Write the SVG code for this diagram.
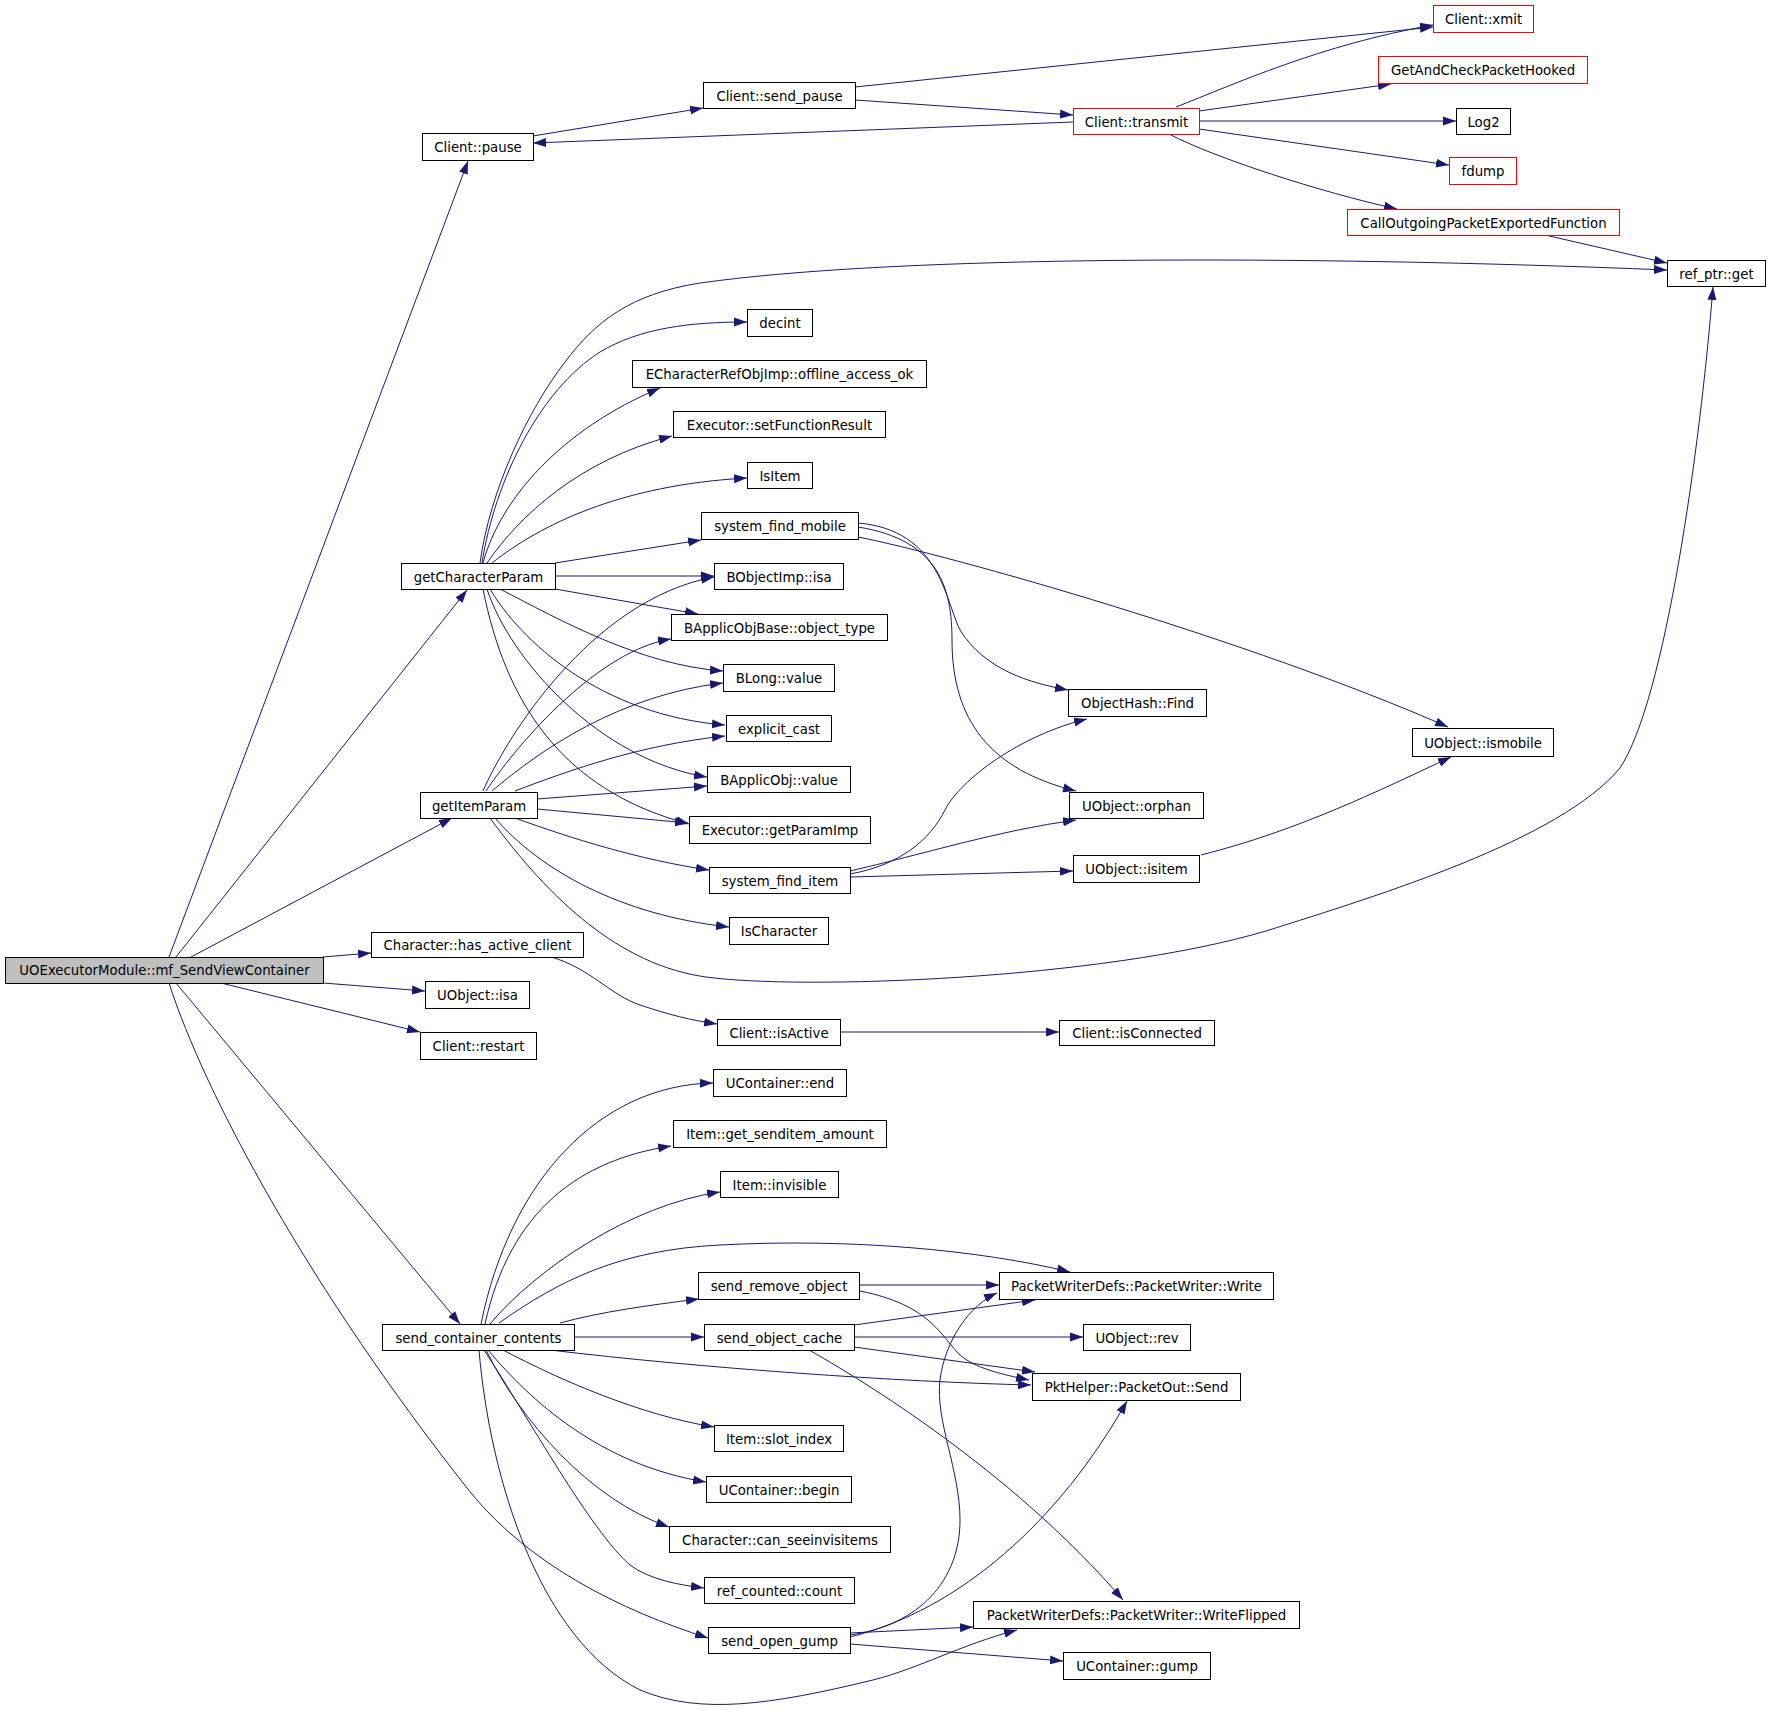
<svg xmlns="http://www.w3.org/2000/svg" width="1771" height="1710" viewBox="0 0 1771 1710">
<defs>
<marker id="ah" markerWidth="13" markerHeight="10" refX="13" refY="5" orient="auto" markerUnits="userSpaceOnUse"><path d="M0,0.5 L13,5 L0,9.5 z" fill="#191970"/></marker>
<style>
.node rect{fill:#ffffff;stroke:#000000;stroke-width:1}
.node rect.red{stroke:#ff0000}
.node rect.root{fill:#bfbfbf}
.node text{font-family:"DejaVu Sans",sans-serif;font-size:13.3px;fill:#000000;text-anchor:middle}
.edges path{fill:none;stroke:#191970;stroke-width:1;marker-end:url(#ah)}
</style>
</defs>
<rect x="0" y="0" width="1771" height="1710" fill="#ffffff"/>
<g id="edges" class="edges">
<path d="M169,957 L468,161"/>
<path d="M176,957 L467,590"/>
<path d="M191,957 L452,818"/>
<path d="M323,957 L371,953"/>
<path d="M323,983 L425,991"/>
<path d="M221,983 L420,1032"/>
<path d="M176,983 L460,1324"/>
<path d="M169,983 C205,1095 310,1290 471,1493 C530,1565 620,1610 708,1638"/>
<path d="M533,136 L703,108"/>
<path d="M855,87 L1433,27"/>
<path d="M855,100 L1073,115"/>
<path d="M1073,122 L533,143"/>
<path d="M1176,107 C1235,84 1320,45 1433,25"/>
<path d="M1199,111 L1391,84"/>
<path d="M1199,121 L1456,121"/>
<path d="M1199,129 L1449,165"/>
<path d="M1169,134 C1215,158 1320,192 1397,209"/>
<path d="M1545,235 L1667,263"/>
<path d="M480,563 C490,490 528,410 565,362 C595,322 630,294 700,283 C900,255 1300,255 1667,270"/>
<path d="M482,563 C495,480 540,390 600,352 C640,328 690,322 747,322"/>
<path d="M483,563 C500,500 560,430 660,388"/>
<path d="M487,563 C520,515 580,460 672,436"/>
<path d="M492,563 C540,525 620,485 747,478"/>
<path d="M555,563 L701,540"/>
<path d="M555,576 L714,576"/>
<path d="M555,589 L698,614"/>
<path d="M500,589 C560,620 640,665 723,671"/>
<path d="M490,589 C520,640 600,715 725,725"/>
<path d="M487,589 C510,660 600,760 707,777"/>
<path d="M483,589 C505,700 560,790 689,824"/>
<path d="M483,791 C505,740 590,600 714,577"/>
<path d="M486,791 C520,740 600,650 671,639"/>
<path d="M492,791 C540,750 620,695 723,683"/>
<path d="M515,791 C570,770 640,745 725,736"/>
<path d="M537,799 L707,786"/>
<path d="M537,809 L688,823"/>
<path d="M515,818 C570,838 640,860 709,870"/>
<path d="M495,818 C540,870 620,915 729,927"/>
<path d="M490,818 C550,900 620,965 706,977 C800,990 1100,980 1266,931 C1380,895 1560,840 1620,768 C1665,700 1700,450 1713,287"/>
<path d="M858,523 C940,530 945,600 960,630 C985,670 1030,683 1068,690"/>
<path d="M858,527 C940,540 952,590 952,640 C952,720 990,770 1076,791"/>
<path d="M858,537 C950,555 1250,640 1448,727"/>
<path d="M850,874 C900,865 930,840 945,810 C960,780 1020,735 1087,719"/>
<path d="M850,871 C920,855 1000,830 1076,820"/>
<path d="M850,877 L1073,871"/>
<path d="M1201,855 C1300,830 1380,790 1451,757"/>
<path d="M551,957 C590,968 610,995 640,1005 C670,1015 690,1020 717,1024"/>
<path d="M840,1032 L1059,1032"/>
<path d="M481,1324 C510,1180 600,1085 713,1083"/>
<path d="M485,1324 C510,1210 580,1160 671,1146"/>
<path d="M490,1324 C535,1270 630,1205 720,1192"/>
<path d="M499,1323 C560,1280 620,1250 720,1245 C850,1238 980,1250 1070,1272"/>
<path d="M560,1323 C600,1312 650,1305 699,1299"/>
<path d="M574,1337 L704,1337"/>
<path d="M550,1350 C700,1368 900,1382 1031,1385"/>
<path d="M503,1350 C560,1380 640,1415 714,1427"/>
<path d="M488,1350 C530,1400 600,1465 706,1482"/>
<path d="M486,1350 C520,1420 590,1500 669,1527"/>
<path d="M484,1350 C530,1420 590,1530 630,1565 C650,1580 680,1585 704,1588"/>
<path d="M479,1350 C490,1480 540,1640 640,1690 C700,1715 770,1705 873,1680 C920,1668 960,1645 1017,1630"/>
<path d="M854,1325 L1035,1300"/>
<path d="M854,1337 L1083,1337"/>
<path d="M854,1347 L1035,1372"/>
<path d="M809,1350 C880,1390 1020,1480 1123,1600"/>
<path d="M859,1285 L999,1285"/>
<path d="M860,1291 C930,1305 940,1335 960,1355 C975,1368 1000,1374 1029,1380"/>
<path d="M850,1635 C920,1625 960,1580 960,1520 C960,1470 935,1420 940,1380 C945,1340 970,1305 997,1293"/>
<path d="M850,1637 C960,1610 1060,1520 1127,1401"/>
<path d="M850,1633 L973,1627"/>
<path d="M850,1644 L1063,1661"/>
</g>
<g id="n_root" class="node"><rect class="root" x="5.5" y="957.5" width="318" height="26"/><text x="164.5" y="975">UOExecutorModule::mf_SendViewContainer</text></g>
<g id="n_pause" class="node"><rect x="422.5" y="133.5" width="111" height="27"/><text x="478" y="152">Client::pause</text></g>
<g id="n_send_pause" class="node"><rect x="703.5" y="82.5" width="152" height="26"/><text x="779.5" y="100.5">Client::send_pause</text></g>
<g id="n_transmit" class="node"><rect class="red" x="1073.5" y="108.5" width="126" height="26"/><text x="1136.5" y="126.5">Client::transmit</text></g>
<g id="n_xmit" class="node"><rect class="red" x="1433.5" y="5.5" width="100" height="27"/><text x="1483.5" y="24">Client::xmit</text></g>
<g id="n_getand" class="node"><rect class="red" x="1378.5" y="56.5" width="209" height="27"/><text x="1483" y="75">GetAndCheckPacketHooked</text></g>
<g id="n_log2" class="node"><rect x="1456.5" y="108.5" width="54" height="26"/><text x="1483.5" y="126.5">Log2</text></g>
<g id="n_fdump" class="node"><rect class="red" x="1449.5" y="157.5" width="67" height="27"/><text x="1483" y="176">fdump</text></g>
<g id="n_callout" class="node"><rect class="red" x="1347.5" y="209.5" width="272" height="26"/><text x="1483.5" y="227.5">CallOutgoingPacketExportedFunction</text></g>
<g id="n_refptr" class="node"><rect x="1667.5" y="260.5" width="98" height="26"/><text x="1716.5" y="278.5">ref_ptr::get</text></g>
<g id="n_decint" class="node"><rect x="747.5" y="309.5" width="65" height="27"/><text x="780" y="328">decint</text></g>
<g id="n_echar" class="node"><rect x="632.5" y="360.5" width="294" height="27"/><text x="779.5" y="379">ECharacterRefObjImp::offline_access_ok</text></g>
<g id="n_setfr" class="node"><rect x="673.5" y="411.5" width="212" height="26"/><text x="779.5" y="429.5">Executor::setFunctionResult</text></g>
<g id="n_isitem" class="node"><rect x="747.5" y="462.5" width="65" height="26"/><text x="780" y="480.5">IsItem</text></g>
<g id="n_sfm" class="node"><rect x="701.5" y="512.5" width="157" height="27"/><text x="780" y="531">system_find_mobile</text></g>
<g id="n_gcp" class="node"><rect x="401.5" y="563.5" width="154" height="26"/><text x="478.5" y="581.5">getCharacterParam</text></g>
<g id="n_boisa" class="node"><rect x="714.5" y="563.5" width="129" height="26"/><text x="779" y="581.5">BObjectImp::isa</text></g>
<g id="n_objtype" class="node"><rect x="671.5" y="614.5" width="216" height="26"/><text x="779.5" y="632.5">BApplicObjBase::object_type</text></g>
<g id="n_blong" class="node"><rect x="723.5" y="664.5" width="111" height="27"/><text x="779" y="683">BLong::value</text></g>
<g id="n_expl" class="node"><rect x="726.5" y="715.5" width="105" height="26"/><text x="779" y="733.5">explicit_cast</text></g>
<g id="n_bapp" class="node"><rect x="707.5" y="766.5" width="143" height="26"/><text x="779" y="784.5">BApplicObj::value</text></g>
<g id="n_gip" class="node"><rect x="420.5" y="792.5" width="117" height="26"/><text x="479" y="810.5">getItemParam</text></g>
<g id="n_getparam" class="node"><rect x="689.5" y="816.5" width="181" height="27"/><text x="780" y="835">Executor::getParamImp</text></g>
<g id="n_sfi" class="node"><rect x="709.5" y="867.5" width="141" height="26"/><text x="780" y="885.5">system_find_item</text></g>
<g id="n_ischar" class="node"><rect x="729.5" y="917.5" width="99" height="27"/><text x="779" y="936">IsCharacter</text></g>
<g id="n_hac" class="node"><rect x="371.5" y="932.5" width="212" height="25"/><text x="477.5" y="950">Character::has_active_client</text></g>
<g id="n_uisa" class="node"><rect x="425.5" y="981.5" width="104" height="27"/><text x="477.5" y="1000">UObject::isa</text></g>
<g id="n_restart" class="node"><rect x="420.5" y="1032.5" width="116" height="27"/><text x="478.5" y="1051">Client::restart</text></g>
<g id="n_isactive" class="node"><rect x="717.5" y="1019.5" width="123" height="26"/><text x="779" y="1037.5">Client::isActive</text></g>
<g id="n_isconn" class="node"><rect x="1059.5" y="1020.5" width="155" height="25"/><text x="1137" y="1038">Client::isConnected</text></g>
<g id="n_find" class="node"><rect x="1068.5" y="689.5" width="138" height="27"/><text x="1137.5" y="708">ObjectHash::Find</text></g>
<g id="n_ismobile" class="node"><rect x="1412.5" y="728.5" width="141" height="28"/><text x="1483" y="747.5">UObject::ismobile</text></g>
<g id="n_orphan" class="node"><rect x="1069.5" y="792.5" width="134" height="26"/><text x="1136.5" y="810.5">UObject::orphan</text></g>
<g id="n_uisitem" class="node"><rect x="1073.5" y="855.5" width="126" height="27"/><text x="1136.5" y="874">UObject::isitem</text></g>
<g id="n_uend" class="node"><rect x="713.5" y="1069.5" width="133" height="27"/><text x="780" y="1088">UContainer::end</text></g>
<g id="n_gsa" class="node"><rect x="673.5" y="1120.5" width="213" height="27"/><text x="780" y="1139">Item::get_senditem_amount</text></g>
<g id="n_invis" class="node"><rect x="720.5" y="1171.5" width="118" height="26"/><text x="779.5" y="1189.5">Item::invisible</text></g>
<g id="n_sro" class="node"><rect x="698.5" y="1272.5" width="161" height="27"/><text x="779" y="1291">send_remove_object</text></g>
<g id="n_scc" class="node"><rect x="382.5" y="1324.5" width="192" height="26"/><text x="478.5" y="1342.5">send_container_contents</text></g>
<g id="n_soc" class="node"><rect x="704.5" y="1324.5" width="150" height="26"/><text x="779.5" y="1342.5">send_object_cache</text></g>
<g id="n_write" class="node"><rect x="999.5" y="1272.5" width="274" height="27"/><text x="1136.5" y="1291">PacketWriterDefs::PacketWriter::Write</text></g>
<g id="n_rev" class="node"><rect x="1083.5" y="1324.5" width="107" height="26"/><text x="1137" y="1342.5">UObject::rev</text></g>
<g id="n_send" class="node"><rect x="1032.5" y="1373.5" width="208" height="27"/><text x="1136.5" y="1392">PktHelper::PacketOut::Send</text></g>
<g id="n_slot" class="node"><rect x="714.5" y="1425.5" width="129" height="26"/><text x="779" y="1443.5">Item::slot_index</text></g>
<g id="n_ubegin" class="node"><rect x="706.5" y="1476.5" width="145" height="26"/><text x="779" y="1494.5">UContainer::begin</text></g>
<g id="n_cansee" class="node"><rect x="669.5" y="1526.5" width="221" height="26"/><text x="780" y="1544.5">Character::can_seeinvisitems</text></g>
<g id="n_refcount" class="node"><rect x="704.5" y="1577.5" width="150" height="26"/><text x="779.5" y="1595.5">ref_counted::count</text></g>
<g id="n_sog" class="node"><rect x="708.5" y="1627.5" width="142" height="26"/><text x="779.5" y="1645.5">send_open_gump</text></g>
<g id="n_wflip" class="node"><rect x="973.5" y="1601.5" width="326" height="27"/><text x="1136.5" y="1620">PacketWriterDefs::PacketWriter::WriteFlipped</text></g>
<g id="n_gump" class="node"><rect x="1063.5" y="1652.5" width="147" height="27"/><text x="1137" y="1671">UContainer::gump</text></g>
</svg>
